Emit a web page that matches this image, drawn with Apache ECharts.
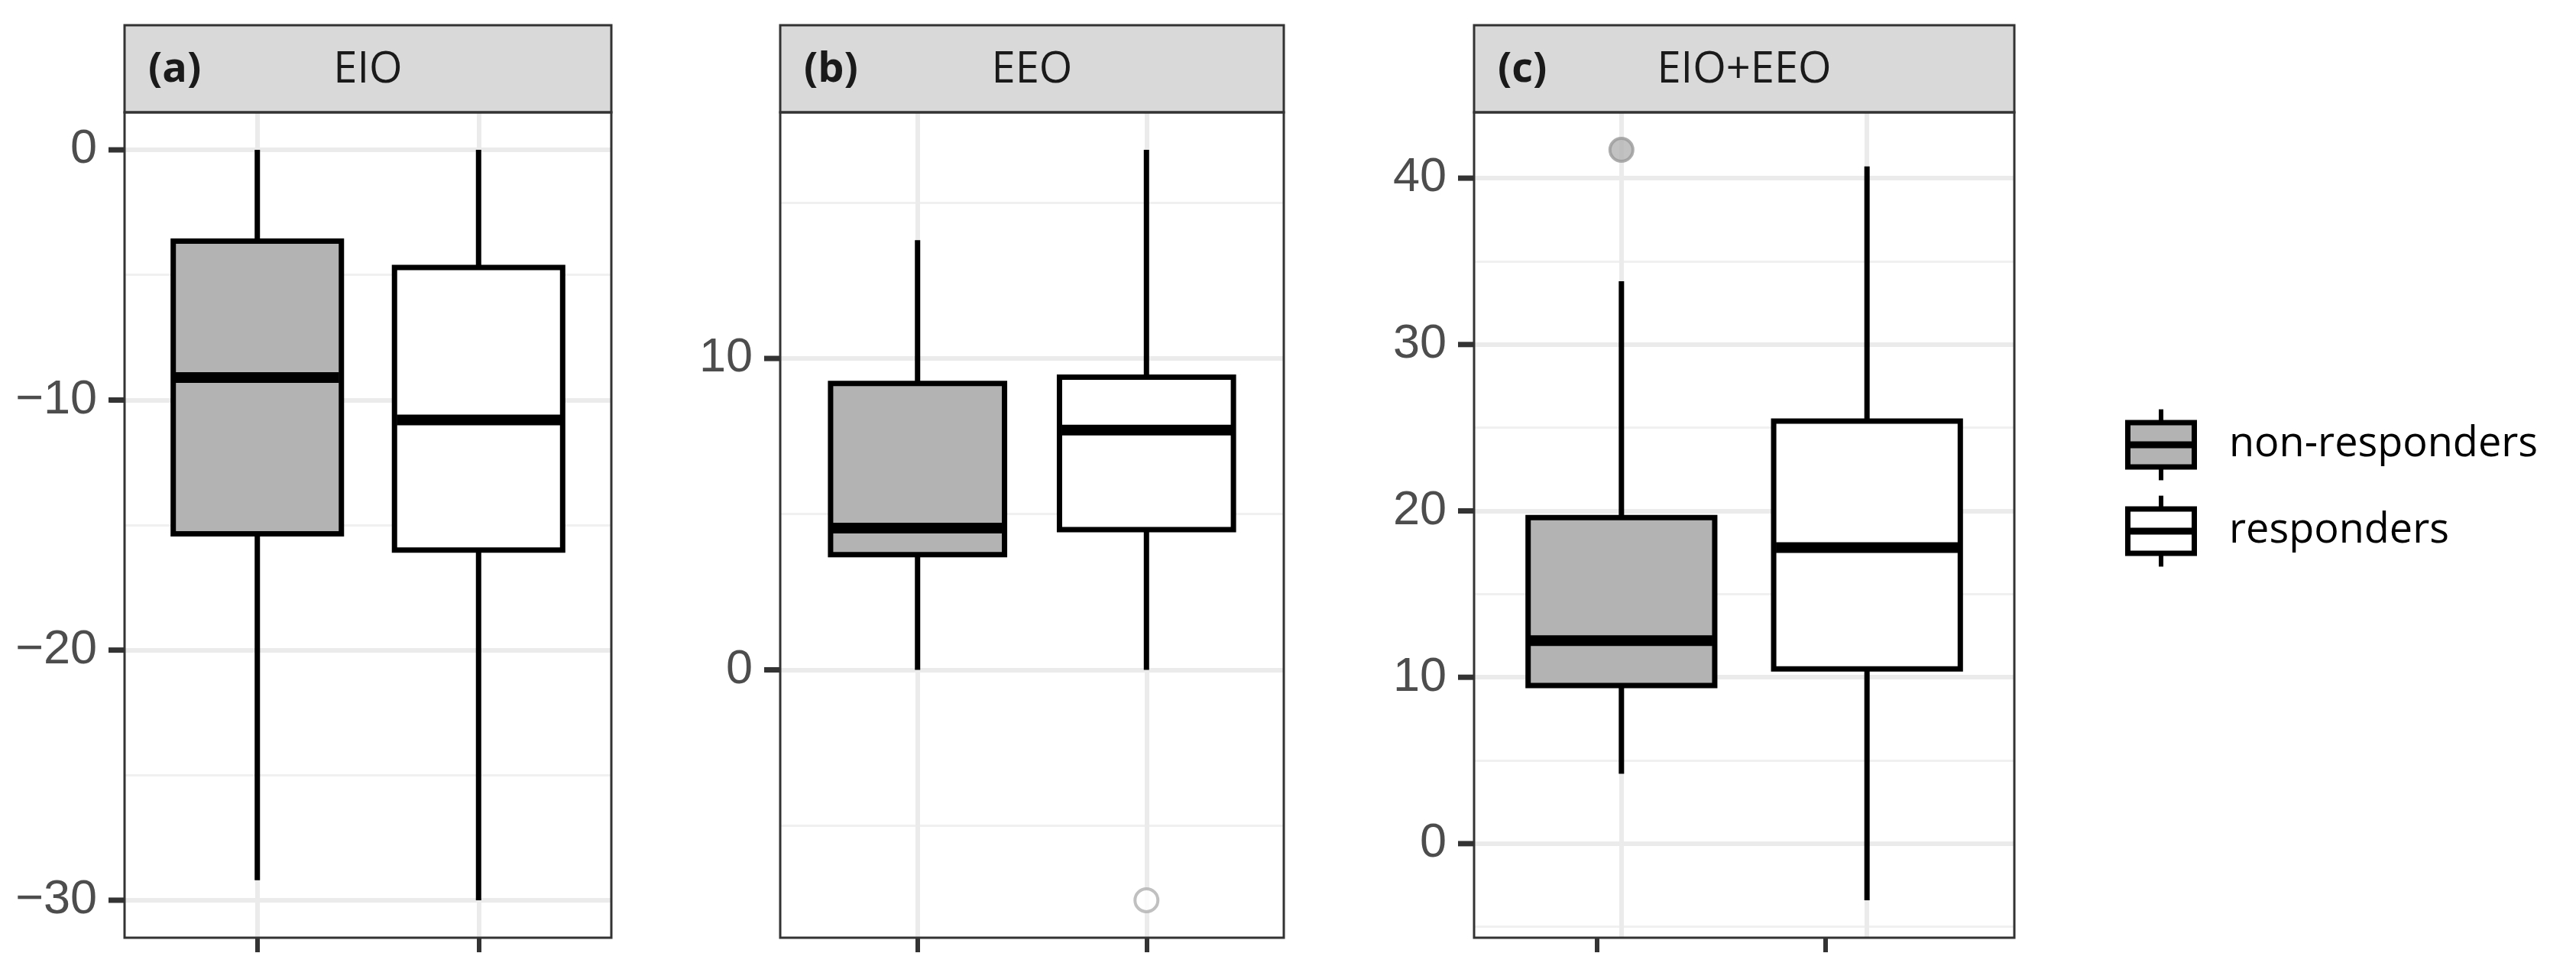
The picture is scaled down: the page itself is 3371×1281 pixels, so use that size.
<!DOCTYPE html>
<html>
<head>
<meta charset="utf-8">
<script src="https://cdn.jsdelivr.net/npm/echarts@6/dist/echarts.min.js"></script>
<style>
html, body { margin: 0; padding: 0; background: #ffffff; }
#chart { width: 3371px; height: 1281px; }
</style>
</head>
<body>
<div id="chart"></div>
<script>
// ---------------- data ----------------
const groups = ['non-responders', 'responders'];
const panelLetters = ['(a)', '(b)', '(c)'];
const panelNames = ['EIO', 'EEO', 'EIO+EEO'];
// box statistics per group: [lower whisker, Q1, median, Q3, upper whisker]
const eioStats   = [[-29.2, -15.35, -9.1, -3.65, 0], [-30.0, -16.0, -10.8, -4.7, 0]];
const eeoStats   = [[0, 3.7, 4.55, 9.2, 13.8], [0, 4.5, 7.7, 9.4, 16.7]];
const comboStats = [[4.2, 9.5, 12.2, 19.6, 33.8], [-3.4, 10.5, 17.8, 25.4, 40.7]];
// outliers: [group position (1 = non-responders, 2 = responders), value]
const eioOutliers   = [];
const eeoOutliers   = [[2, -7.4]];
const comboOutliers = [[1, 41.7]];
// y tick labels (major breaks) and minor breaks
const eioMajor   = [-30, -20, -10, 0];
const eioMinor   = [-25, -15, -5];
const eeoMajor   = [0, 10];
const eeoMinor   = [-5, 5, 15];
const comboMajor = [0, 10, 20, 30, 40];
const comboMinor = [-5, 5, 15, 25, 35];

// ---------------- styling / layout ----------------
const BOX_FILLS = ['#b3b3b3', '#ffffff'];
const OUT_FILLS = ['#b3b3b3', '#ffffff'];
const OUT_STROKES = ['#9a9a9a', '#b0b0b0'];
const BOX_WIDTH = 0.76;
const LINE_W = 7, MEDIAN_W = 14;
const STRIP_TOP = 33, TOP = 147, HEIGHT = 1080;
const X_MIN = 0.4, X_MAX = 2.6;
const panels = [
  { left: 163,  width: 637, stats: eioStats,   out: eioOutliers,   major: eioMajor,   minor: eioMinor,   xTicks: [1, 2] },
  { left: 1021, width: 659, stats: eeoStats,   out: eeoOutliers,   major: eeoMajor,   minor: eeoMinor,   xTicks: [1, 2] },
  // the bottom tick marks of panel (c) are slightly offset from the boxes in the original figure
  { left: 1929, width: 707, stats: comboStats, out: comboOutliers, major: comboMajor, minor: comboMinor, xTicks: [0.9, 1.83] }
];

function yRange(p) {
  const vals = [];
  p.stats.forEach(s => s.forEach(v => vals.push(v)));
  p.out.forEach(o => vals.push(o[1]));
  const lo = Math.min(...vals), hi = Math.max(...vals);
  const pad = (hi - lo) * 0.05;
  return [lo - pad, hi + pad];
}

function renderBox(params, api) {
  const x = api.value(0);
  const lo = api.value(1), q1 = api.value(2), med = api.value(3), q3 = api.value(4), hi = api.value(5);
  const h = BOX_WIDTH / 2;
  const tl = api.coord([x - h, q3]);
  const br = api.coord([x + h, q1]);
  const top = api.coord([x, hi]);
  const bot = api.coord([x, lo]);
  const mL = api.coord([x - h, med]);
  const mR = api.coord([x + h, med]);
  const fill = BOX_FILLS[params.dataIndex];
  return {
    type: 'group',
    children: [
      { type: 'line', shape: { x1: top[0], y1: top[1], x2: top[0], y2: tl[1] }, style: { stroke: '#000', lineWidth: LINE_W } },
      { type: 'line', shape: { x1: bot[0], y1: br[1], x2: bot[0], y2: bot[1] }, style: { stroke: '#000', lineWidth: LINE_W } },
      { type: 'rect', shape: { x: tl[0], y: tl[1], width: br[0] - tl[0], height: br[1] - tl[1] }, style: { fill: fill, stroke: '#000', lineWidth: LINE_W } },
      { type: 'line', shape: { x1: mL[0] + 3, y1: mL[1], x2: mR[0] - 3, y2: mR[1] }, style: { stroke: '#000', lineWidth: MEDIAN_W } }
    ]
  };
}

// y-axis tick marks, positioned via the axis scale
function renderYTick(params, api) {
  const pt = api.coord([api.value(0), api.value(1)]);
  return { type: 'rect', shape: { x: pt[0] - 21, y: pt[1] - 3.5, width: 20, height: 7 }, style: { fill: '#333333' } };
}

const grids = [], xAxes = [], yAxes = [], series = [], graphics = [];
const tickStyle = { color: '#333333', width: 6 };

panels.forEach((p, i) => {
  const yr = yRange(p);
  grids.push({ left: p.left, top: TOP, width: p.width, height: HEIGHT, show: true, backgroundColor: '#ffffff', borderWidth: 0 });
  xAxes.push({
    type: 'value', gridIndex: i, min: X_MIN, max: X_MAX, position: 'bottom',
    axisLine: { show: false, onZero: false },
    axisLabel: { show: false },
    splitLine: { show: false },
    axisTick: { show: true, customValues: p.xTicks, length: 19, lineStyle: tickStyle }
  });
  yAxes.push({
    type: 'value', gridIndex: i, min: yr[0], max: yr[1], position: 'left',
    axisLine: { show: false, onZero: false },
    splitLine: { show: false },
    axisTick: { show: true, customValues: p.major, length: 19, lineStyle: tickStyle },
    axisLabel: {
      show: true, customValues: p.major, margin: 36,
      fontFamily: 'Liberation Sans', fontSize: 63, color: '#4d4d4d',
      formatter: v => String(v).replace('-', '\u2212')
    }
  });
  // grid lines (major, minor, and category lines)
  const lines = [];
  p.minor.forEach(v => lines.push({ yAxis: v, lineStyle: { color: '#f0f0f0', width: 3, type: 'solid' } }));
  p.major.forEach(v => lines.push({ yAxis: v, lineStyle: { color: '#ebebeb', width: 6, type: 'solid' } }));
  [1, 2].forEach(v => lines.push({ xAxis: v, lineStyle: { color: '#ebebeb', width: 6, type: 'solid' } }));
  series.push({
    type: 'scatter', xAxisIndex: i, yAxisIndex: i, data: [], silent: true, z: 1,
    markLine: { silent: true, z: 1, symbol: ['none', 'none'], label: { show: false }, animation: false, data: lines }
  });
  series.push({
    type: 'custom', name: panelNames[i], xAxisIndex: i, yAxisIndex: i, z: 5,
    renderItem: renderBox,
    encode: { x: 0, y: [1, 2, 3, 4, 5] },
    data: p.stats.map((s, k) => [k + 1].concat(s))
  });
  series.push({
    type: 'scatter', xAxisIndex: i, yAxisIndex: i, z: 6, symbol: 'circle', symbolSize: 30,
    data: p.out.map(o => ({
      value: o,
      itemStyle: { color: OUT_FILLS[o[0] - 1], borderColor: OUT_STROKES[o[0] - 1], borderWidth: 4 }
    }))
  });
  series.push({
    type: 'custom', xAxisIndex: i, yAxisIndex: i, z: 20, clip: false, silent: true,
    renderItem: renderYTick,
    encode: { x: 0, y: 1 },
    data: p.major.map(v => [X_MIN, v])
  });
  // strip
  graphics.push({ type: 'rect', z: 100, shape: { x: p.left, y: STRIP_TOP, width: p.width, height: TOP - STRIP_TOP },
    style: { fill: '#d9d9d9', stroke: '#333333', lineWidth: 3 } });
  graphics.push({ type: 'text', z: 101, x: p.left + 31, y: (STRIP_TOP + TOP) / 2 + 2,
    style: { text: panelLetters[i], font: 'bold 54px "Open Sans"', fill: '#1a1a1a', textAlign: 'left', textVerticalAlign: 'middle' } });
  graphics.push({ type: 'text', z: 101, x: p.left + p.width / 2, y: (STRIP_TOP + TOP) / 2 + 2,
    style: { text: panelNames[i], font: '56px "Open Sans"', fill: '#1a1a1a', textAlign: 'center', textVerticalAlign: 'middle' } });
  // panel frame
  graphics.push({ type: 'rect', z: 100, shape: { x: p.left, y: TOP, width: p.width, height: HEIGHT },
    style: { fill: 'none', stroke: '#333333', lineWidth: 3 } });
});

// legend
const LEG_X = 2828, LEG_Y = [582, 695], LEG_S = 116;
groups.forEach((g, k) => {
  const cx = LEG_X, cy = LEG_Y[k], s = LEG_S;
  graphics.push({ type: 'line', z: 100, shape: { x1: cx, y1: cy - 0.4 * s, x2: cx, y2: cy - 0.25 * s }, style: { stroke: '#000', lineWidth: 6 } });
  graphics.push({ type: 'line', z: 100, shape: { x1: cx, y1: cy + 0.25 * s, x2: cx, y2: cy + 0.4 * s }, style: { stroke: '#000', lineWidth: 6 } });
  graphics.push({ type: 'rect', z: 100, shape: { x: cx - 0.375 * s, y: cy - 0.25 * s, width: 0.75 * s, height: 0.5 * s },
    style: { fill: BOX_FILLS[k], stroke: '#000', lineWidth: 7 } });
  graphics.push({ type: 'line', z: 101, shape: { x1: cx - 0.375 * s, y1: cy, x2: cx + 0.375 * s, y2: cy }, style: { stroke: '#000', lineWidth: 9 } });
  graphics.push({ type: 'text', z: 101, x: 2917, y: cy,
    style: { text: g, font: '54px "Open Sans"', fill: '#000', textAlign: 'left', textVerticalAlign: 'middle' } });
});

const chart = echarts.init(document.getElementById('chart'), null, { renderer: 'canvas' });
chart.setOption({
  animation: false,
  backgroundColor: '#ffffff',
  grid: grids,
  xAxis: xAxes,
  yAxis: yAxes,
  series: series,
  graphic: graphics
});
</script>
</body>
</html>
